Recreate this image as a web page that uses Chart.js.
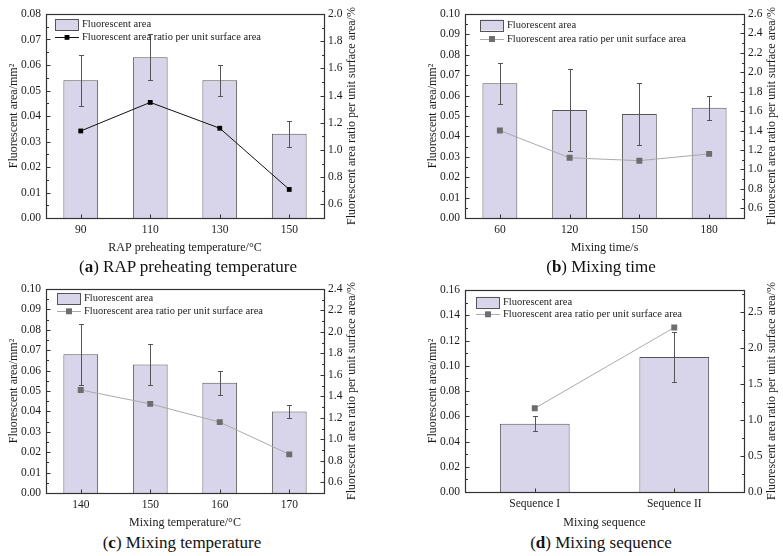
<!DOCTYPE html>
<html>
<head>
<meta charset="utf-8">
<script src="https://cdn.jsdelivr.net/npm/chart.js@4.4.0/dist/chart.umd.min.js"></script>
<style>
  body { margin: 0; background: #fff; }
  #page { position: relative; width: 783px; height: 556px; overflow: hidden; background: #fff; }
  canvas { position: absolute; }
  .cap { position: absolute; width: 320px; text-align: center; font-family: 'Liberation Serif', 'Times New Roman', serif; font-size: 17px; line-height: 20px; color: #111; white-space: nowrap; }
</style>
</head>
<body>
<div id="page">
  <canvas id="chartA" width="392" height="258" style="left:0px;top:0px"></canvas>
  <canvas id="chartB" width="391" height="258" style="left:392px;top:0px"></canvas>
  <canvas id="chartC" width="392" height="258" style="left:0px;top:275px"></canvas>
  <canvas id="chartD" width="391" height="258" style="left:392px;top:275px"></canvas>
  <div class="cap" style="left:28px;top:257px">(<b>a</b>) RAP preheating temperature</div>
  <div class="cap" style="left:441px;top:257px">(<b>b</b>) Mixing time</div>
  <div class="cap" style="left:22px;top:533px">(<b>c</b>) Mixing temperature</div>
  <div class="cap" style="left:441px;top:533px">(<b>d</b>) Mixing sequence</div>
</div>
<script>
// series names and axis titles
const barLabel = "Fluorescent area";
const lineLabel = "Fluorescent area ratio per unit surface area";
const leftTitle = "Fluorescent area/mm²";
const rightTitle = "Fluorescent area ratio per unit surface area/%";

// (a) RAP preheating temperature
const catsA = ["90", "110", "130", "150"];
const areaA = [0.054, 0.063, 0.054, 0.033];
const errA = [0.010, 0.009, 0.006, 0.005];
const ratioA = [1.14, 1.35, 1.16, 0.71];
const leftTicksA = ["0.00", "0.01", "0.02", "0.03", "0.04", "0.05", "0.06", "0.07", "0.08"];
const rightTicksA = ["0.6", "0.8", "1.0", "1.2", "1.4", "1.6", "1.8", "2.0"];

// (b) Mixing time
const catsB = ["60", "120", "150", "180"];
const areaB = [0.066, 0.053, 0.051, 0.054];
const errB = [0.010, 0.020, 0.015, 0.006];
const ratioB = [1.40, 1.12, 1.09, 1.16];
const leftTicksB = ["0.00", "0.01", "0.02", "0.03", "0.04", "0.05", "0.06", "0.07", "0.08", "0.09", "0.10"];
const rightTicksB = ["0.6", "0.8", "1.0", "1.2", "1.4", "1.6", "1.8", "2.0", "2.2", "2.4", "2.6"];

// (c) Mixing temperature
const catsC = ["140", "150", "160", "170"];
const areaC = [0.068, 0.063, 0.054, 0.040];
const errC = [0.015, 0.010, 0.006, 0.003];
const ratioC = [1.46, 1.33, 1.16, 0.86];
const leftTicksC = ["0.00", "0.01", "0.02", "0.03", "0.04", "0.05", "0.06", "0.07", "0.08", "0.09", "0.10"];
const rightTicksC = ["0.6", "0.8", "1.0", "1.2", "1.4", "1.6", "1.8", "2.0", "2.2", "2.4"];

// (d) Mixing sequence
const catsD = ["Sequence I", "Sequence II"];
const areaD = [0.054, 0.107];
const errD = [0.006, 0.020];
const ratioD = [1.16, 2.28];
const leftTicksD = ["0.00", "0.02", "0.04", "0.06", "0.08", "0.10", "0.12", "0.14", "0.16"];
const rightTicksD = ["0.0", "0.5", "1.0", "1.5", "2.0", "2.5"];

const FONT = "'Liberation Serif', 'Times New Roman', serif";
const textColor = "#1a1a1a";
const axisColor = "#333";
const barFill = "#d8d4e9";
const barEdge = "#555";

// draws error bars, frame, inward ticks, legend and the right axis title
const figPlugin = {
  id: "fig",
  afterDatasetDraw(chart, args, opts) {
    if (args.meta.type !== "bar") return;
    const ctx = chart.ctx;
    const y = chart.scales.y;
    const vals = chart.data.datasets[args.index].data;
    ctx.save();
    ctx.strokeStyle = opts.errColor;
    ctx.lineWidth = 1;
    ctx.beginPath();
    args.meta.data.forEach((bar, i) => {
      const x = Math.round(bar.x) + 0.5;
      const top = Math.round(y.getPixelForValue(vals[i] + opts.errors[i])) + 0.5;
      const bot = Math.round(y.getPixelForValue(vals[i] - opts.errors[i])) + 0.5;
      ctx.moveTo(x, top); ctx.lineTo(x, bot);
      ctx.moveTo(x - 2.5, top); ctx.lineTo(x + 2.5, top);
      ctx.moveTo(x - 2.5, bot); ctx.lineTo(x + 2.5, bot);
    });
    ctx.stroke();
    ctx.restore();
  },
  afterDraw(chart, args, opts) {
    const ctx = chart.ctx;
    const a = chart.chartArea;
    const l = Math.round(a.left) + 0.5, r = Math.round(a.right) + 0.5;
    const t = Math.round(a.top) + 0.5, b = Math.round(a.bottom) + 0.5;
    ctx.save();
    ctx.strokeStyle = axisColor;
    ctx.lineWidth = 1;
    ctx.beginPath();
    // y ticks, pointing inside
    [["y", l, 1], ["y1", r, -1]].forEach(([id, xe, dir]) => {
      const s = chart.scales[id];
      const vals = s.ticks.map((tk) => tk.value);
      const step = vals[1] - vals[0];
      vals.forEach((v) => {
        const py = Math.round(s.getPixelForValue(v)) + 0.5;
        ctx.moveTo(xe, py); ctx.lineTo(xe + dir * 4, py);
      });
      for (let v = vals[0] - step / 2; v < s.max; v += step) {
        if (v <= s.min + 1e-9 || v >= s.max - 1e-9) continue;
        const py = Math.round(s.getPixelForValue(v)) + 0.5;
        ctx.moveTo(xe, py); ctx.lineTo(xe + dir * 2.5, py);
      }
    });
    const xs = chart.scales.x;
    xs.ticks.forEach((tk, i) => {
      const px = Math.round(xs.getPixelForTick(i)) + 0.5;
      ctx.moveTo(px, b); ctx.lineTo(px, b - 4);
    });
    ctx.stroke();
    ctx.lineWidth = 1.2;
    ctx.strokeRect(l, t, r - l, b - t);

    // legend
    const bars = chart.data.datasets[1], line = chart.data.datasets[0];
    const lx = a.left + opts.legend.dx;
    const y1 = a.top + opts.legend.dy1, y2 = a.top + opts.legend.dy2;
    ctx.fillStyle = bars.backgroundColor;
    ctx.fillRect(lx, y1 - 5.5, 23, 11);
    ctx.strokeStyle = bars.borderColor;
    ctx.lineWidth = 1;
    ctx.strokeRect(Math.round(lx) + 0.5, Math.round(y1 - 5.5) + 0.5, 23, 11);
    ctx.strokeStyle = line.borderColor;
    ctx.beginPath();
    ctx.moveTo(lx, Math.round(y2) + 0.5); ctx.lineTo(lx + 24, Math.round(y2) + 0.5);
    ctx.stroke();
    const ms = line.pointRadius * Math.SQRT1_2;
    ctx.fillStyle = line.pointBackgroundColor;
    ctx.fillRect(lx + 12 - ms, y2 - ms, 2 * ms, 2 * ms);
    ctx.fillStyle = textColor;
    ctx.font = "10.5px " + FONT;
    ctx.textAlign = "left";
    ctx.textBaseline = "middle";
    ctx.fillText(bars.label, lx + 27, y1);
    ctx.fillText(line.label, lx + 27, y2);

    // right axis title, reading bottom to top
    ctx.font = "12px " + FONT;
    ctx.textAlign = "center";
    ctx.translate(a.right + 28, (a.top + a.bottom) / 2);
    ctx.rotate(-Math.PI / 2);
    ctx.fillText(opts.rightTitle, 0, 0);
    ctx.restore();
  }
};

function makeChart(id, p) {
  const box = p.box;
  new Chart(document.getElementById(id), {
    type: "bar",
    data: {
      labels: p.cats,
      datasets: [
        {
          type: "line",
          label: lineLabel,
          data: p.ratio,
          yAxisID: "y1",
          order: 0,
          borderColor: p.lineColor,
          borderWidth: 1,
          pointStyle: "rect",
          pointRadius: p.pointR,
          pointBackgroundColor: p.markColor,
          pointBorderWidth: 0,
          tension: 0,
        },
        {
          type: "bar",
          label: barLabel,
          data: p.area,
          yAxisID: "y",
          order: 1,
          backgroundColor: barFill,
          borderColor: barEdge,
          borderWidth: 1,
          barPercentage: 0.5,
          categoryPercentage: 1,
        },
      ],
    },
    options: {
      responsive: false,
      animation: false,
      devicePixelRatio: 1,
      events: [],
      layout: { padding: { top: box.T, left: 0, right: 0, bottom: 0 } },
      plugins: {
        legend: { display: false },
        tooltip: { enabled: false },
        fig: {
          errors: p.err,
          errColor: p.errColor,
          rightTitle: rightTitle,
          legend: p.legend,
        },
      },
      scales: {
        x: {
          offset: true,
          grid: { display: false, drawTicks: false },
          border: { display: false },
          ticks: { color: textColor, font: { family: FONT, size: 11.5 }, padding: 5, maxRotation: 0, autoSkip: false },
          title: { display: true, text: p.xTitle, color: textColor, font: { family: FONT, size: 12 }, padding: { top: 0, bottom: 3.3 } },
          afterFit: (s) => { s.height = box.H - box.B; },
        },
        y: {
          position: "left",
          min: 0,
          max: parseFloat(p.leftTicks[p.leftTicks.length - 1]),
          grid: { display: false, drawTicks: false },
          border: { display: false },
          afterBuildTicks: (s) => { s.ticks = p.leftTicks.map((v) => ({ value: parseFloat(v) })); },
          ticks: { color: textColor, font: { family: FONT, size: 11.5 }, padding: 5, autoSkip: false, callback: (v, i) => p.leftTicks[i] },
          title: { display: true, text: leftTitle, color: textColor, font: { family: FONT, size: 12 }, padding: { top: box.L - 32 - 7.2, bottom: 0 } },
          afterFit: (s) => { s.width = box.L; },
        },
        y1: {
          position: "right",
          min: p.y1Min,
          max: p.y1Max,
          grid: { display: false, drawTicks: false },
          border: { display: false },
          afterBuildTicks: (s) => { s.ticks = p.rightTicks.map((v) => ({ value: parseFloat(v) })); },
          ticks: { color: textColor, font: { family: FONT, size: 11.5 }, padding: 4, autoSkip: false, callback: (v, i) => p.rightTicks[i] },
          afterFit: (s) => { s.width = box.W - box.R; },
        },
      },
    },
    plugins: [figPlugin],
  });
}

makeChart("chartA", {
  cats: catsA, area: areaA, err: errA, ratio: ratioA,
  leftTicks: leftTicksA, rightTicks: rightTicksA, y1Min: 0.5, y1Max: 2.0,
  xTitle: "RAP preheating temperature/°C",
  box: { L: 46, R: 324, T: 14, B: 218, W: 392, H: 258 },
  lineColor: "#111", markColor: "#000", pointR: 3.4, errColor: "#555",
  legend: { dx: 9, dy1: 10.7, dy2: 23.4 },
});
makeChart("chartB", {
  cats: catsB, area: areaB, err: errB, ratio: ratioB,
  leftTicks: leftTicksB, rightTicks: rightTicksB, y1Min: 0.5, y1Max: 2.6,
  xTitle: "Mixing time/s",
  box: { L: 73, R: 352, T: 14, B: 218, W: 391, H: 258 },
  lineColor: "#aaaaaa", markColor: "#6d6d6d", pointR: 4.2, errColor: "#555",
  legend: { dx: 15, dy1: 11, dy2: 25 },
});
makeChart("chartC", {
  cats: catsC, area: areaC, err: errC, ratio: ratioC,
  leftTicks: leftTicksC, rightTicks: rightTicksC, y1Min: 0.5, y1Max: 2.4,
  xTitle: "Mixing temperature/°C",
  box: { L: 46, R: 324, T: 14, B: 218, W: 392, H: 258 },
  lineColor: "#aaaaaa", markColor: "#6d6d6d", pointR: 4.2, errColor: "#555",
  legend: { dx: 11, dy1: 9.7, dy2: 22.3 },
});
makeChart("chartD", {
  cats: catsD, area: areaD, err: errD, ratio: ratioD,
  leftTicks: leftTicksD, rightTicks: rightTicksD, y1Min: 0, y1Max: 2.8,
  xTitle: "Mixing sequence",
  box: { L: 73, R: 352, T: 15, B: 217, W: 391, H: 258 },
  lineColor: "#aaaaaa", markColor: "#6d6d6d", pointR: 4.2, errColor: "#555",
  legend: { dx: 11, dy1: 12.3, dy2: 24.3 },
});
</script>
</body>
</html>
